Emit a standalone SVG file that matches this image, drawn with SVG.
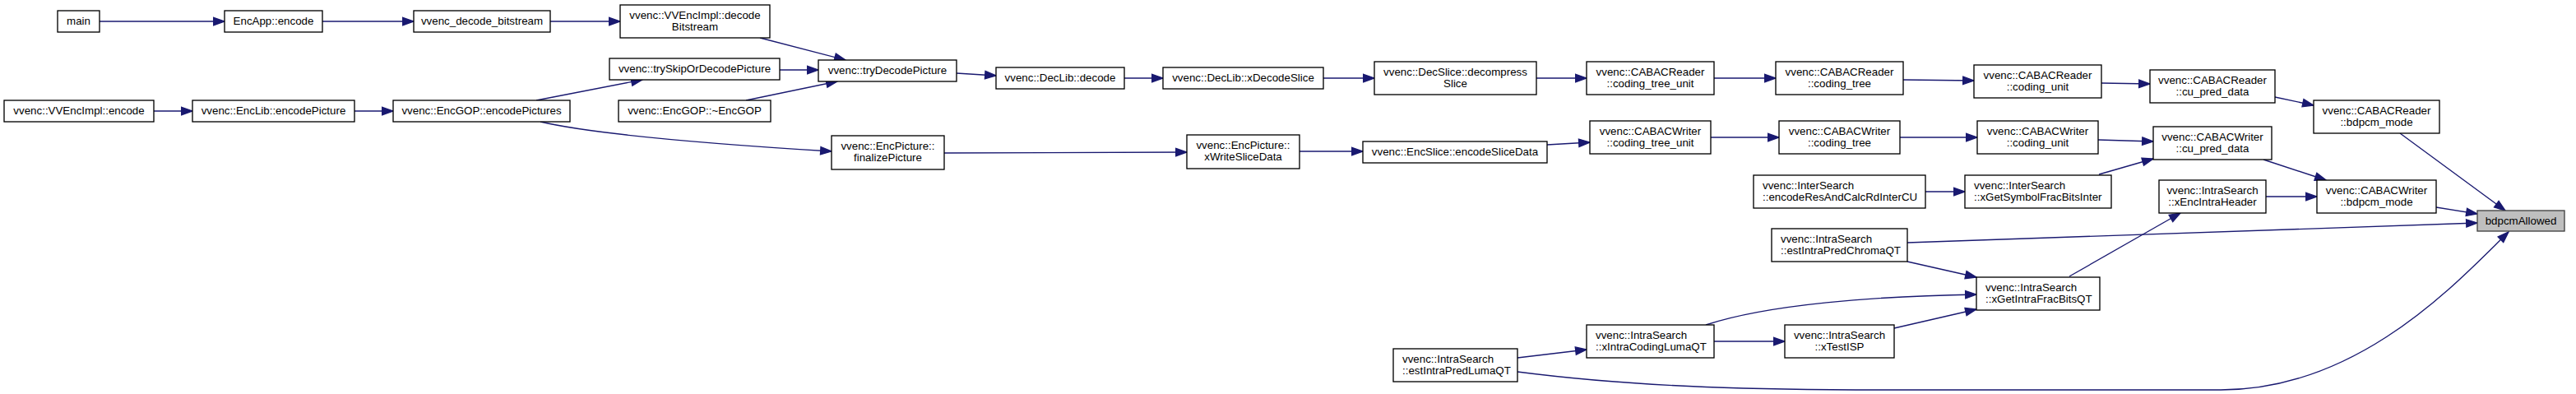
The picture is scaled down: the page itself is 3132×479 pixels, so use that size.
<svg xmlns="http://www.w3.org/2000/svg" width="3132" height="479" viewBox="0 0 3132 479">
<defs>
<style>
.n rect{fill:#fff;stroke:#000;stroke-width:1.33}
.root rect{fill:#bfbfbf;stroke:#404040;stroke-width:1.33}
text{font-family:"Liberation Sans",Arial,Helvetica,sans-serif;font-size:13.33px;fill:#000}
.c{text-anchor:middle}
.l{text-anchor:start}
.e path{fill:none;stroke:#191970;stroke-width:1.33;marker-end:url(#ah)}
</style>
<marker id="ah" markerUnits="userSpaceOnUse" markerWidth="16" markerHeight="12" refX="13.3" refY="5.2" orient="auto" overflow="visible">
<path d="M0,0.5 L13.3,5.2 L0,9.9 Z" fill="#191970" stroke="#191970" stroke-width="1.33"/>
</marker>
</defs>
<rect width="3132" height="479" fill="#fff"/>
<g id="edges" class="e">
<path d="M121,26 L273,26"/>
<path d="M392,26 L503,26"/>
<path d="M669,26 L754,26"/>
<path d="M187,135 L234,135"/>
<path d="M431,135 L478,135"/>
<path d="M652,122 L781,97"/>
<path d="M657,148 C730,165 880,176 1011,184"/>
<path d="M924,46 L1028,73"/>
<path d="M948,85 L995,85"/>
<path d="M907,122 L1018,99"/>
<path d="M1163,89 L1211,92"/>
<path d="M1367,95 L1414,95"/>
<path d="M1609,95 L1671,95"/>
<path d="M1868,95 L1929,95"/>
<path d="M2084,95 L2159,95"/>
<path d="M2314,97 L2400,98"/>
<path d="M2555,101 L2614,102"/>
<path d="M2766,118 L2813,128"/>
<path d="M2918,162 L3046,256"/>
<path d="M1148,186 L1443,185"/>
<path d="M1580,184 L1657,184"/>
<path d="M1881,176 L1933,173"/>
<path d="M2080,167 L2163,167"/>
<path d="M2310,167 L2404,167"/>
<path d="M2551,170 L2618,172"/>
<path d="M2552,212 L2618,193"/>
<path d="M2341,233 L2389,233"/>
<path d="M2752,194 L2828,219"/>
<path d="M2755,239 L2817,239"/>
<path d="M2962,252 L3012,260"/>
<path d="M2319,295 L3012,271"/>
<path d="M2319,318 L2403,337"/>
<path d="M2516,336 L2651,259"/>
<path d="M2074,395 C2150,370 2280,360 2403,358"/>
<path d="M2084,415 L2170,415"/>
<path d="M2303,399 L2403,376"/>
<path d="M1845,435 L1929,425"/>
<path d="M1845,452 C2000,472 2150,474 2300,474 L2700,474 C2870,474 2990,340 3050,282"/>
</g>
<g id="n_main" class="n"><rect x="70" y="13" width="51" height="26"/><text class="c" x="95.5" y="29.5">main</text></g>
<g id="n_encapp" class="n"><rect x="273" y="13" width="119" height="26"/><text class="c" x="332.5" y="29.5">EncApp::encode</text></g>
<g id="n_vdb" class="n"><rect x="503" y="13" width="166" height="26"/><text class="c" x="586" y="29.5">vvenc_decode_bitstream</text></g>
<g id="n_decbs" class="n"><rect x="754" y="6" width="182" height="40"/><text class="c" x="845" y="22.5">vvenc::VVEncImpl::decode</text><text class="c" x="845" y="37">Bitstream</text></g>
<g id="n_vvencode" class="n"><rect x="5" y="122" width="182" height="26"/><text class="c" x="96" y="138.5">vvenc::VVEncImpl::encode</text></g>
<g id="n_enclib" class="n"><rect x="234" y="122" width="197" height="26"/><text class="c" x="332.5" y="138.5">vvenc::EncLib::encodePicture</text></g>
<g id="n_encpics" class="n"><rect x="478" y="122" width="215" height="26"/><text class="c" x="585.5" y="138.5">vvenc::EncGOP::encodePictures</text></g>
<g id="n_tryskip" class="n"><rect x="741" y="71" width="207" height="26"/><text class="c" x="844.5" y="87.5">vvenc::trySkipOrDecodePicture</text></g>
<g id="n_encgopd" class="n"><rect x="752" y="122" width="185" height="26"/><text class="c" x="844.5" y="138.5">vvenc::EncGOP::~EncGOP</text></g>
<g id="n_trydec" class="n"><rect x="995" y="73" width="168" height="26"/><text class="c" x="1079" y="89.5">vvenc::tryDecodePicture</text></g>
<g id="n_declibdec" class="n"><rect x="1211" y="82" width="156" height="26"/><text class="c" x="1289" y="98.5">vvenc::DecLib::decode</text></g>
<g id="n_xdecslice" class="n"><rect x="1414" y="82" width="195" height="26"/><text class="c" x="1511.5" y="98.5">vvenc::DecLib::xDecodeSlice</text></g>
<g id="n_finalize" class="n"><rect x="1011" y="165" width="137" height="41"/><text class="c" x="1079.5" y="181.5">vvenc::EncPicture::</text><text class="c" x="1079.5" y="196">finalizePicture</text></g>
<g id="n_xwrite" class="n"><rect x="1443" y="164" width="137" height="41"/><text class="c" x="1511.5" y="180.5">vvenc::EncPicture::</text><text class="c" x="1511.5" y="195">xWriteSliceData</text></g>
<g id="n_decomp" class="n"><rect x="1671" y="75" width="197" height="40"/><text class="c" x="1769.5" y="91.5">vvenc::DecSlice::decompress</text><text class="c" x="1769.5" y="106">Slice</text></g>
<g id="n_crctu" class="n"><rect x="1929" y="75" width="155" height="40"/><text class="c" x="2006.5" y="91.5">vvenc::CABACReader</text><text class="c" x="2006.5" y="106">::coding_tree_unit</text></g>
<g id="n_crct" class="n"><rect x="2159" y="75" width="155" height="40"/><text class="c" x="2236.5" y="91.5">vvenc::CABACReader</text><text class="c" x="2236.5" y="106">::coding_tree</text></g>
<g id="n_crcu" class="n"><rect x="2400" y="79" width="155" height="40"/><text class="c" x="2477.5" y="95.5">vvenc::CABACReader</text><text class="c" x="2477.5" y="110">::coding_unit</text></g>
<g id="n_crcpd" class="n"><rect x="2614" y="85" width="152" height="40"/><text class="c" x="2690" y="101.5">vvenc::CABACReader</text><text class="c" x="2690" y="116">::cu_pred_data</text></g>
<g id="n_crbd" class="n"><rect x="2813" y="122" width="153" height="40"/><text class="c" x="2889.5" y="138.5">vvenc::CABACReader</text><text class="c" x="2889.5" y="153">::bdpcm_mode</text></g>
<g id="n_encslice" class="n"><rect x="1657" y="172" width="224" height="26"/><text class="c" x="1769" y="188.5">vvenc::EncSlice::encodeSliceData</text></g>
<g id="n_cwctu" class="n"><rect x="1933" y="147" width="147" height="40"/><text class="c" x="2006.5" y="163.5">vvenc::CABACWriter</text><text class="c" x="2006.5" y="178">::coding_tree_unit</text></g>
<g id="n_cwct" class="n"><rect x="2163" y="147" width="147" height="40"/><text class="c" x="2236.5" y="163.5">vvenc::CABACWriter</text><text class="c" x="2236.5" y="178">::coding_tree</text></g>
<g id="n_cwcu" class="n"><rect x="2404" y="147" width="147" height="40"/><text class="c" x="2477.5" y="163.5">vvenc::CABACWriter</text><text class="c" x="2477.5" y="178">::coding_unit</text></g>
<g id="n_cwcpd" class="n"><rect x="2618" y="154" width="144" height="40"/><text class="c" x="2690" y="170.5">vvenc::CABACWriter</text><text class="c" x="2690" y="185">::cu_pred_data</text></g>
<g id="n_interres" class="n"><rect x="2132" y="213" width="209" height="40"/><text class="l" x="2143" y="229.5">vvenc::InterSearch</text><text class="l" x="2143" y="244">::encodeResAndCalcRdInterCU</text></g>
<g id="n_xgetsym" class="n"><rect x="2389" y="213" width="178" height="40"/><text class="l" x="2400" y="229.5">vvenc::InterSearch</text><text class="l" x="2400" y="244">::xGetSymbolFracBitsInter</text></g>
<g id="n_xencintra" class="n"><rect x="2625" y="219" width="130" height="40"/><text class="c" x="2690" y="235.5">vvenc::IntraSearch</text><text class="c" x="2690" y="250">::xEncIntraHeader</text></g>
<g id="n_cwbd" class="n"><rect x="2817" y="219" width="145" height="40"/><text class="c" x="2889.5" y="235.5">vvenc::CABACWriter</text><text class="c" x="2889.5" y="250">::bdpcm_mode</text></g>
<g id="n_root" class="root"><rect x="3012" y="256" width="106" height="25"/><text class="c" x="3065" y="272.5">bdpcmAllowed</text></g>
<g id="n_chroma" class="n"><rect x="2154" y="278" width="165" height="40"/><text class="l" x="2165" y="294.5">vvenc::IntraSearch</text><text class="l" x="2165" y="309">::estIntraPredChromaQT</text></g>
<g id="n_xgetintra" class="n"><rect x="2403" y="337" width="150" height="40"/><text class="l" x="2414" y="353.5">vvenc::IntraSearch</text><text class="l" x="2414" y="368">::xGetIntraFracBitsQT</text></g>
<g id="n_xintraluma" class="n"><rect x="1929" y="395" width="155" height="40"/><text class="l" x="1940" y="411.5">vvenc::IntraSearch</text><text class="l" x="1940" y="426">::xIntraCodingLumaQT</text></g>
<g id="n_xtestisp" class="n"><rect x="2170" y="395" width="133" height="40"/><text class="c" x="2236.5" y="411.5">vvenc::IntraSearch</text><text class="c" x="2236.5" y="426">::xTestISP</text></g>
<g id="n_lumaqt" class="n"><rect x="1694" y="424" width="151" height="40"/><text class="l" x="1705" y="440.5">vvenc::IntraSearch</text><text class="l" x="1705" y="455">::estIntraPredLumaQT</text></g>
</svg>
